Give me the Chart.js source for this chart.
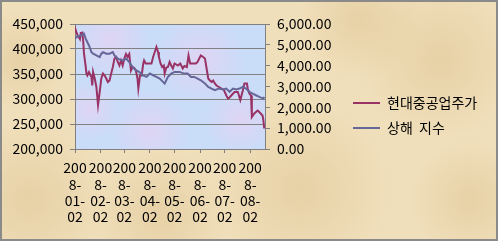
<!DOCTYPE html>
<html>
<head>
<meta charset="utf-8">
<script src="https://cdn.jsdelivr.net/npm/chart.js@4/dist/chart.umd.min.js"></script>
<style>
  html, body { margin: 0; padding: 0; background: #fff; }
  #myChart { display: block; }
</style>
</head>
<body>
<canvas id="myChart" width="502" height="244"></canvas>
<script>
/* series names as in the legend */
var seriesNames = ["현대중공업주가", "상해  지수"];

/* 현대중공업 close (left axis, won) */
var hhiDates = ["2008-01-02","2008-01-03","2008-01-04","2008-01-05","2008-01-08","2008-01-09","2008-01-11","2008-01-12","2008-01-13","2008-01-15",
  "2008-01-16","2008-01-17","2008-01-19","2008-01-22","2008-01-23","2008-01-24","2008-01-26","2008-01-28","2008-01-30","2008-02-01",
  "2008-02-03","2008-02-05","2008-02-07","2008-02-09","2008-02-11","2008-02-13","2008-02-15","2008-02-17","2008-02-19","2008-02-21",
  "2008-02-23","2008-02-25","2008-02-27","2008-02-29","2008-03-02","2008-03-04","2008-03-06","2008-03-08","2008-03-10","2008-03-12",
  "2008-03-14","2008-03-16","2008-03-18","2008-03-19","2008-03-21","2008-03-23","2008-03-25","2008-03-26","2008-03-28","2008-03-31",
  "2008-04-04","2008-04-06","2008-04-08","2008-04-10","2008-04-12","2008-04-13","2008-04-15","2008-04-17","2008-04-19","2008-04-20",
  "2008-04-22","2008-04-24","2008-04-26","2008-04-28","2008-04-30","2008-05-02","2008-05-06","2008-05-09","2008-05-12","2008-05-14",
  "2008-05-17","2008-05-19","2008-05-21","2008-05-25","2008-05-28","2008-05-30","2008-06-01","2008-06-03","2008-06-05","2008-06-08",
  "2008-06-09","2008-06-12","2008-06-14","2008-06-16","2008-06-18","2008-06-20","2008-06-22","2008-06-25","2008-06-27","2008-07-01",
  "2008-07-04","2008-07-06","2008-07-08","2008-07-10","2008-07-14","2008-07-18","2008-07-21","2008-07-24","2008-07-26","2008-07-29",
  "2008-07-30","2008-08-01","2008-08-03","2008-08-04","2008-08-07","2008-08-11","2008-08-13","2008-08-17","2008-08-18","2008-08-19"];
var hhiPrices = [434000,437000,432000,428000,420000,432000,433000,415000,390000,365000,
  350000,347000,354000,344000,327000,354000,341000,324000,288000,314000,
  341000,351000,347000,341000,334000,337000,351000,364000,381000,384000,
  374000,367000,377000,367000,381000,390000,384000,390000,357000,364000,
  362000,357000,341000,321000,347000,347000,371000,377000,371000,371000,
  371000,384000,394000,404000,394000,384000,371000,364000,367000,351000,
  363000,364000,374000,367000,361000,371000,367000,371000,361000,366000,
  364000,387000,371000,371000,371000,374000,381000,387000,385000,381000,
  371000,341000,337000,334000,337000,331000,327000,324000,322000,318000,
  307000,301000,303000,307000,314000,314000,298000,317000,331000,331000,
  321000,311000,307000,264000,271000,277000,274000,267000,258000,241000];

/* 상해 종합지수 (right axis) */
var shDates = ["2008-01-02","2008-01-05","2008-01-09","2008-01-13","2008-01-15","2008-01-19","2008-01-22","2008-01-24","2008-01-28","2008-02-01",
  "2008-02-03","2008-02-05","2008-02-09","2008-02-13","2008-02-17","2008-02-19","2008-02-23","2008-02-25","2008-02-29","2008-03-04",
  "2008-03-08","2008-03-12","2008-03-16","2008-03-20","2008-03-24","2008-03-29","2008-04-02","2008-04-06","2008-04-10","2008-04-14",
  "2008-04-18","2008-04-20","2008-04-22","2008-04-24","2008-04-26","2008-04-28","2008-05-02","2008-05-08","2008-05-14","2008-05-18",
  "2008-05-22","2008-05-26","2008-05-30","2008-06-03","2008-06-08","2008-06-12","2008-06-16","2008-06-20","2008-06-25","2008-06-30",
  "2008-07-04","2008-07-08","2008-07-12","2008-07-16","2008-07-20","2008-07-24","2008-07-28","2008-08-01","2008-08-05","2008-08-09",
  "2008-08-13","2008-08-18","2008-08-19"];
var shIndex = [5300,5400,5450,5530,5290,4970,4650,4575,4490,4410,
  4575,4650,4575,4575,4650,4490,4340,4300,4250,4340,
  4170,3930,3780,3700,3540,3460,3620,3540,3460,3380,
  3220,3140,3300,3460,3540,3620,3700,3700,3620,3620,
  3460,3460,3380,3300,3140,2980,2900,2820,2900,2860,
  2900,2740,2900,2860,2900,2980,2900,2740,2660,2580,
  2500,2420,2500];

/* x axis tick labels (monthly) */
var tickDates = ["2008-01-02","2008-02-02","2008-03-02","2008-04-02","2008-05-02","2008-06-02","2008-07-02","2008-08-02"];
var startDate = "2008-01-02";

function dayOf(s) {
  return (Date.parse(s) - Date.parse(startDate)) / 86400000;
}
function toPoints(dates, vals) {
  return dates.map(function (d, i) { return { x: dayOf(d), y: vals[i] }; });
}

var FONT = "'Noto Sans CJK KR', 'Noto Sans', sans-serif";
Chart.defaults.font.family = FONT;
Chart.defaults.font.size = 14;
Chart.defaults.color = "#000";

// parchment + plot area texture, border, legend placement
var decor = {
  id: "decor",
  afterLayout: function (chart) {
    var lg = chart.legend;
    lg.left = 342; lg.right = 500;
    lg.top = 85; lg.bottom = 200;
  },
  beforeDraw: function (chart) {
    var ctx = chart.ctx, a = chart.chartArea;
    ctx.save();
    ctx.fillStyle = "#fff";
    ctx.fillRect(0, 0, chart.width, chart.height);
    ctx.fillStyle = "#f0dfbb";
    ctx.fillRect(1, 1, 497, 240);
    var spots = [[30, 200, 80], [160, 215, 70], [300, 190, 90], [440, 60, 80], [470, 200, 60], [20, 60, 50], [360, 20, 60]];
    spots.forEach(function (s) {
      var g = ctx.createRadialGradient(s[0], s[1], 0, s[0], s[1], s[2]);
      g.addColorStop(0, "rgba(220,192,140,0.45)");
      g.addColorStop(1, "rgba(220,192,140,0)");
      ctx.fillStyle = g;
      ctx.fillRect(1, 1, 497, 240);
    });
    ctx.fillStyle = "#c9dcf8";
    ctx.fillRect(a.left, a.top, a.right - a.left, a.bottom - a.top);
    ctx.beginPath();
    ctx.rect(a.left, a.top, a.right - a.left, a.bottom - a.top);
    ctx.clip();
    var pinks = [[110, 40, 40], [200, 60, 45], [150, 130, 40], [240, 120, 35], [90, 110, 30]];
    pinks.forEach(function (s) {
      var g = ctx.createRadialGradient(s[0], s[1], 0, s[0], s[1], s[2]);
      g.addColorStop(0, "rgba(232,210,242,0.7)");
      g.addColorStop(1, "rgba(232,210,242,0)");
      ctx.fillStyle = g;
      ctx.fillRect(a.left, a.top, a.right - a.left, a.bottom - a.top);
    });
    ctx.restore();
  },
  afterDraw: function (chart) {
    var ctx = chart.ctx;
    ctx.save();
    ctx.strokeStyle = "#8a8a8a";
    ctx.lineWidth = 2;
    ctx.strokeRect(1, 1, 496, 239);
    ctx.restore();
  }
};

var myChart = new Chart("myChart", {
  type: "line",
  data: {
    datasets: [{
      label: seriesNames[0],
      data: toPoints(hhiDates, hhiPrices),
      borderColor: "#993366",
      backgroundColor: "#993366",
      borderWidth: 2,
      pointRadius: 0,
      yAxisID: "y",
      order: 1
    }, {
      label: seriesNames[1],
      data: toPoints(shDates, shIndex),
      borderColor: "#666699",
      backgroundColor: "#666699",
      borderWidth: 2,
      pointRadius: 0,
      yAxisID: "y2",
      order: 0
    }]
  },
  options: {
    responsive: false,
    animation: false,
    devicePixelRatio: 1,
    layout: { padding: { top: 24, left: 0, right: 157, bottom: 0 } },
    plugins: {
      tooltip: { enabled: false },
      legend: {
        position: "chartArea",
        align: "start",
        labels: {
          usePointStyle: true,
          pointStyle: "line",
          pointStyleWidth: 27,
          padding: 11,
          color: "#000",
          font: { size: 14, lineHeight: 1 },
          sort: function (a, b) { return a.datasetIndex - b.datasetIndex; }
        }
      }
    },
    scales: {
      x: {
        type: "linear",
        min: 0,
        max: 231,
        afterBuildTicks: function (scale) {
          scale.ticks = tickDates.map(function (d) { return { value: dayOf(d) }; });
        },
        afterFit: function (scale) { scale.height = 95; },
        ticks: {
          autoSkip: false,
          maxRotation: 0,
          padding: 7,
          font: { size: 14, lineHeight: 1.16 },
          callback: function (v, i) {
            var s = tickDates[i];
            return [s.slice(0, 3), s.slice(3, 5), s.slice(5, 8), s.slice(8)];
          }
        },
        grid: { drawOnChartArea: false, tickLength: 4, color: "#808080" },
        border: { color: "#808080" }
      },
      y: {
        position: "left",
        min: 200000,
        max: 450000,
        afterFit: function (scale) { scale.width = 75; },
        ticks: {
          stepSize: 50000,
          padding: 7,
          callback: function (v) { return v.toLocaleString("en-US"); }
        },
        grid: { color: "#808080", tickLength: 5 },
        border: { color: "#808080" }
      },
      y2: {
        position: "right",
        min: 0,
        max: 6000,
        afterFit: function (scale) { scale.width = 80; },
        ticks: {
          stepSize: 1000,
          padding: 7,
          callback: function (v) {
            return v.toLocaleString("en-US", { minimumFractionDigits: 2, maximumFractionDigits: 2 });
          }
        },
        grid: { drawOnChartArea: false, color: "#808080", tickLength: 5 },
        border: { color: "#808080" }
      }
    }
  },
  plugins: [decor]
});
</script>
</body>
</html>
